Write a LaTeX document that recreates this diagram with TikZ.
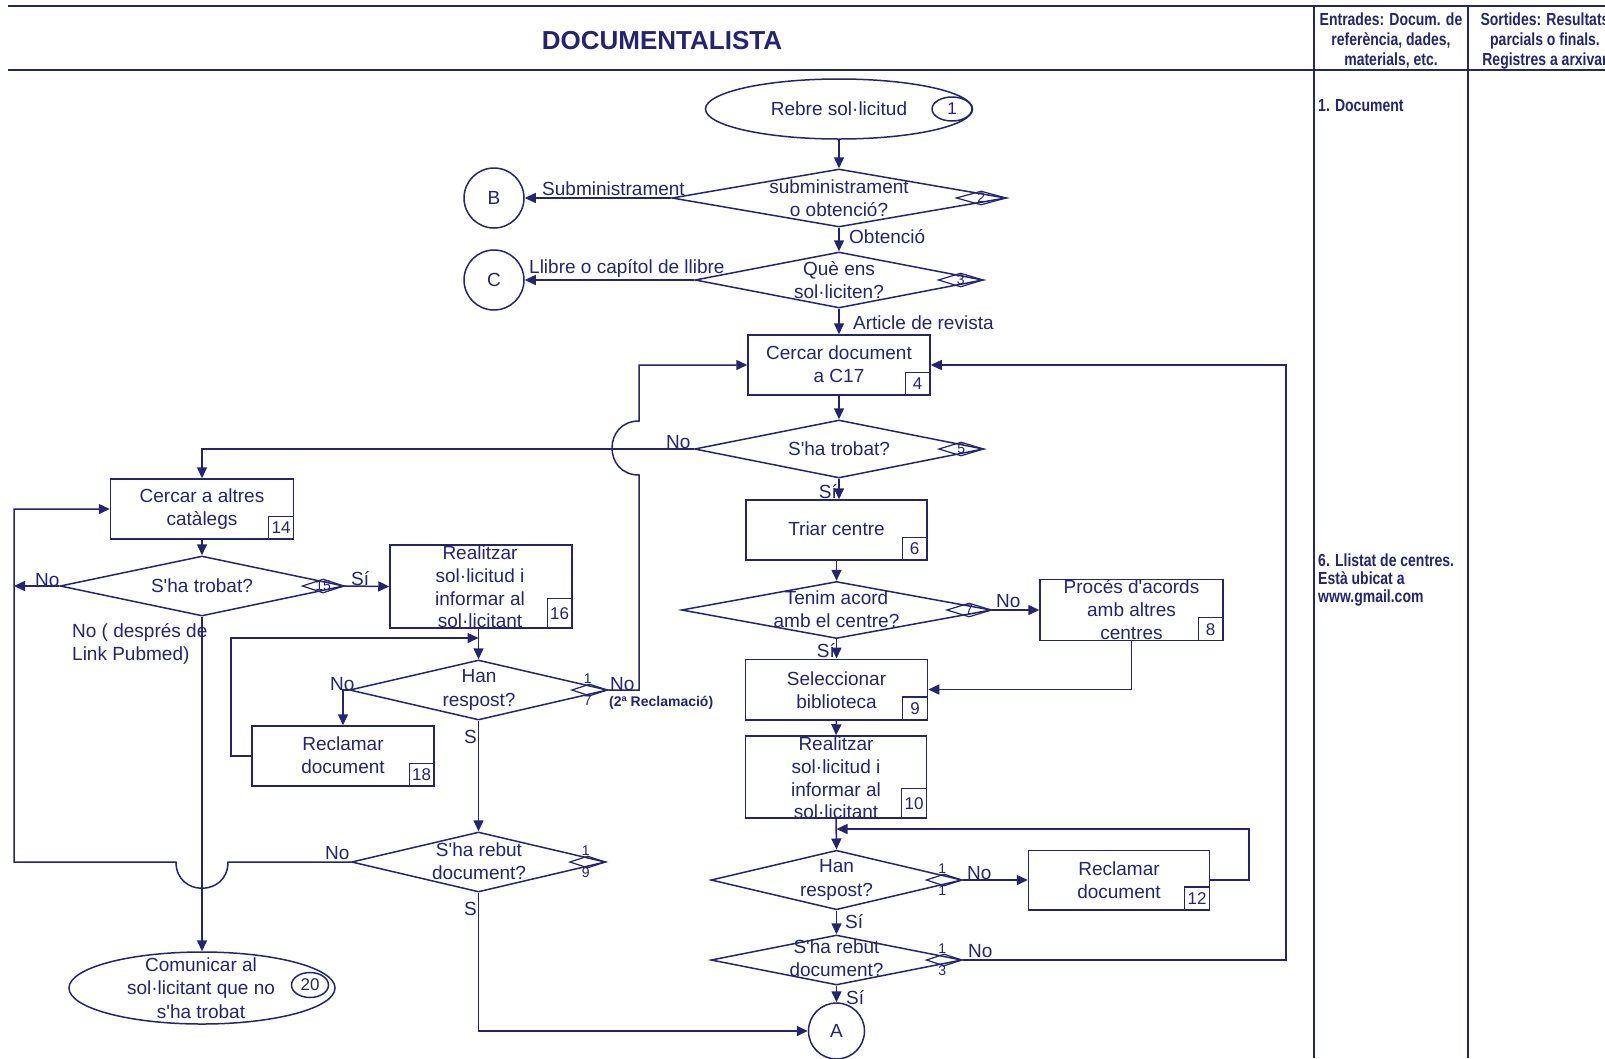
\documentclass[tikz,border=0pt]{standalone}
\usepackage{fontspec}
\setmainfont{Liberation Sans}[Ligatures=TeXOff]
\newfontfamily\nbf{Liberation Sans}[FakeStretch=0.8,Ligatures=TeXOff]
\usetikzlibrary{shapes.geometric,arrows.meta}
\definecolor{navy}{RGB}{36,36,112}
\newcommand{\dmMain}{\fontsize{19}{23.5}\selectfont}
\newcommand{\dmMainB}{\fontsize{19}{22.7}\selectfont}
\newcommand{\dmNum}{\fontsize{17}{17}\selectfont}
\newcommand{\dmTag}{\fontsize{14}{14}\selectfont}
\newcommand{\dmSide}{\nbf\bfseries\fontsize{17.5}{18}\selectfont}
\newcommand{\dmHead}{\nbf\bfseries\fontsize{17.5}{20}\selectfont}
\begin{document}
\begin{tikzpicture}[x=1pt,y=-1pt,
 ln/.style={draw=navy,line width=1.5pt},
 ar/.style={ln,-{Triangle[length=11pt,width=10pt]}},
 box/.style={draw=navy,line width=1.5pt,rectangle,minimum width=182pt,minimum height=60pt,inner sep=0pt},
 numbox/.style={draw=navy,line width=1.2pt,rectangle,minimum width=25pt,minimum height=23pt,inner sep=0pt,anchor=south east,text=navy,font=\dmNum},
 dia/.style={draw=navy,line width=1.5pt,diamond,inner sep=0pt},
 tag/.style={draw=navy,line width=1.2pt,diamond,inner sep=0pt,minimum width=45pt,minimum height=14pt,anchor=east},
 stag/.style={tag,minimum width=36pt,minimum height=12pt},
 tagtxt/.style={text=navy,font=\dmTag,inner sep=0pt},
 txt/.style={text=navy,font=\dmMain,align=center,inner sep=0pt},
 txtb/.style={text=navy,font=\dmMainB,align=center,inner sep=0pt},
 lbl/.style={text=navy,font=\dmMain,inner sep=0pt},
 con/.style={draw=navy,line width=1.5pt,circle,minimum size=60pt,inner sep=0pt,text=navy,font=\dmMain},
 ell/.style={draw=navy,line width=1.5pt,ellipse,inner sep=0pt},
 hd/.style={draw=navy,line width=2.6pt},
 side/.style={text=navy,inner sep=0pt}
]
\useasboundingbox (0,0) rectangle (1605,1058);
\clip (0,0) rectangle (1605,1058);
\fill[white] (0,0) rectangle (1605,1058);

% header and columns
\draw[hd] (8,6) -- (1605,6);
\draw[hd] (8,70) -- (1605,70);
\draw[navy,line width=2pt] (1314,6) -- (1314,1058);
\draw[navy,line width=2pt] (1468,6) -- (1468,1058);
\node[text=navy,font=\bfseries\fontsize{26}{30}\selectfont] (title) at (662,41) {DOCUMENTALISTA};
\node[side,font=\dmHead,align=center] (hin) at (1391,41) {Entrades: Docum. de\\referència, dades,\\materials, etc.};
\node[side,font=\dmHead,align=center] (hout) at (1545,41) {Sortides: Resultats\\parcials o finals.\\Registres a arxivar};
\node[side,font=\dmSide,anchor=west] (in1) at (1318,106) {1. Document};
\node[side,font=\dmSide,align=left,anchor=north west] (in6) at (1318,554) {6. Llistat de centres.\\Està ubicat a\\www.gmail.com};

% coordinates for routing
\coordinate (xL) at (14,0);
\coordinate (xM) at (639,0);
\coordinate (xR) at (1286,0);
\coordinate (xR2) at (1249,0);
\coordinate (x18) at (231,0);

% central column
\node[ell,minimum width=267pt,minimum height=60pt] (e1) at (839,109) {};
\node[txt] (e1t) at (839,109) {Rebre sol·licitud};
\node[ell,minimum width=40pt,minimum height=24pt,text=navy,font=\dmNum] (e1n) at (952,109) {1};

\node[dia,minimum width=334pt,minimum height=58pt] (d2) at (839,198) {};
\node[tag,minimum width=50pt] (t2) at (d2.east) {};
\node[tagtxt] (t2n) at (t2) {2};
\node[txt] (d2t) at (839,198) {subministrament\\o obtenció?};
\node[con] (cB) at (494,198) {B};
\node[lbl,anchor=base west] (l2a) at (542,195) {Subministrament};
\node[lbl,anchor=base west] (l2b) at (849,243) {Obtenció};

\node[dia,minimum width=288pt,minimum height=56pt] (d3) at (839,280) {};
\node[tag] (t3) at (d3.east) {};
\node[tagtxt] (t3n) at (t3) {3};
\node[txt] (d3t) at (839,280) {Què ens\\sol·liciten?};
\node[con] (cC) at (494,280) {C};
\node[lbl,anchor=base west] (l3a) at (529,273) {Llibre o capítol de llibre};
\node[lbl,anchor=base west] (l3b) at (853,329) {Article de revista};

\node[box] (b4) at (839,365) {};
\node[txt] (b4t) at (839,364) {Cercar document\\a C17};
\node[numbox] (n4) at (b4.south east) {4};

\node[dia,minimum width=289pt,minimum height=58pt] (d5) at (839,449) {};
\node[tag] (t5) at (d5.east) {};
\node[tagtxt] (t5n) at (t5) {5};
\node[txt] (d5t) at (839,449) {S'ha trobat?};
\node[lbl,anchor=base west] (l5n) at (666,448) {No};
\node[lbl,anchor=base east] (l5s) at (837,498) {Sí};

\node[box,minimum width=181pt] (b6) at (836.5,530) {};
\node[txt] (b6t) at (836.5,529) {Triar centre};
\node[numbox] (n6) at (b6.south east) {6};

\node[dia,minimum width=310pt,minimum height=57pt] (d7) at (836.5,610) {};
\node[tag] (t7) at (d7.east) {};
\node[tagtxt] (t7n) at (t7) {7};
\node[txt] (d7t) at (836.5,609) {Tenim acord\\amb el centre?};
\node[lbl,anchor=base west] (l7n) at (996,607) {No};
\node[lbl,anchor=base east] (l7s) at (835,657) {Sí};

\node[box,minimum width=183pt,minimum height=61pt] (b8) at (1131.5,610) {};
\node[txtb] (b8t) at (1131.5,609.5) {Procés d'acords\\amb altres\\centres};
\node[numbox] (n8) at (b8.south east) {8};

\node[box,minimum height=60.5pt] (b9) at (836.5,689.5) {};
\node[txt] (b9t) at (836.5,690) {Seleccionar\\biblioteca};
\node[numbox] (n9) at (b9.south east) {9};

\node[box,minimum width=181pt,minimum height=82pt] (b10) at (836,777) {};
\node[txtb] (b10t) at (836,778) {Realitzar\\sol·licitud i\\informar al\\sol·licitant};
\node[numbox,minimum height=30pt] (n10) at (b10.south east) {10};

\coordinate (j11) at (836.5,829);
\node[dia,minimum width=251pt,minimum height=59.5pt] (d11) at (836.5,880) {};
\node[stag] (t11) at (d11.east) {};
\node[tagtxt] (t11a) at ([shift={(-2,-11)}]t11.center) {1};
\node[tagtxt] (t11b) at ([shift={(-2,11)}]t11.center) {1};
\node[txt] (d11t) at (836.5,880) {Han\\respost?};
\node[lbl,anchor=base west] (l11n) at (967,879) {No};
\node[lbl,anchor=base west] (l11s) at (845,928) {Sí};

\node[box,minimum width=181pt,minimum height=59.5pt] (b12) at (1119,880) {};
\node[txt] (b12t) at (1119,880) {Reclamar\\document};
\node[numbox] (n12) at (b12.south east) {12};

\node[dia,minimum width=251pt,minimum height=50pt] (d13) at (836.5,960) {};
\node[stag] (t13) at (d13.east) {};
\node[tagtxt] (t13a) at ([shift={(-2,-11)}]t13.center) {1};
\node[tagtxt] (t13b) at ([shift={(-2,11)}]t13.center) {3};
\node[txt] (d13t) at (836.5,958) {S'ha rebut\\document?};
\node[lbl,anchor=base west] (l13n) at (968,957) {No};
\node[lbl,anchor=base west] (l13s) at (846,1004) {Sí};

\node[con,minimum size=56pt] (cA) at (836.5,1031) {A};

% left part
\node[box,minimum width=183pt] (b14) at (202,509) {};
\node[txt] (b14t) at (202,509) {Cercar a altres\\catàlegs};
\node[numbox] (n14) at (b14.south east) {14};

\node[dia,minimum width=284pt,minimum height=60pt] (d15) at (202,586) {};
\node[tag,minimum width=42pt] (t15) at (d15.east) {};
\node[tagtxt] (t15n) at (t15) {15};
\node[txt] (d15t) at (202,586) {S'ha trobat?};
\node[lbl,anchor=base west] (l15n) at (35,586) {No};
\node[lbl,anchor=base west] (l15s) at (351,585) {Sí};
\node[lbl,anchor=west,align=left] (l15d) at (72,644) {No ( després de\\Link Pubmed)};

\node[box,minimum height=83pt] (b16) at (481,586.5) {};
\node[txtb] (b16t) at (480,587) {Realitzar\\sol·licitud i\\informar al\\sol·licitant};
\node[numbox,minimum height=30pt] (n16) at (b16.south east) {16};

\coordinate (j17) at (478.5,638);
\node[dia,minimum width=258pt,minimum height=60pt] (d17) at (478.5,690) {};
\node[stag] (t17) at (d17.east) {};
\node[tagtxt] (t17a) at ([shift={(-2,-11)}]t17.center) {1};
\node[tagtxt] (t17b) at ([shift={(-2,11)}]t17.center) {7};
\node[txt] (d17t) at (479,690) {Han\\respost?};
\node[lbl,anchor=base west] (l17n) at (330,690) {No};
\node[lbl,anchor=base west] (l17r) at (610,690) {No};
\node[text=navy,font=\bfseries\fontsize{14}{14}\selectfont,anchor=west,inner sep=0pt] (l17c) at (609,703) {(2ª Reclamació)};
\node[lbl,anchor=base east] (l17s) at (477,743) {S};

\node[box] (b18) at (343,756) {};
\node[txt] (b18t) at (343,755) {Reclamar\\document};
\node[numbox] (n18) at (b18.south east) {18};

\node[dia,minimum width=254pt,minimum height=60pt] (d19) at (478.5,862) {};
\node[stag] (t19) at (d19.east) {};
\node[tagtxt] (t19a) at ([shift={(-2,-11)}]t19.center) {1};
\node[tagtxt] (t19b) at ([shift={(-2,11)}]t19.center) {9};
\node[txt] (d19t) at (479,861) {S'ha rebut\\document?};
\node[lbl,anchor=base west] (l19n) at (325,859) {No};
\node[lbl,anchor=base east] (l19s) at (477,915) {S};

\node[ell,minimum width=266pt,minimum height=72pt] (e20) at (202,988) {};
\node[txt] (e20t) at (201,988) {Comunicar al\\sol·licitant que no\\s'ha trobat};
\node[ell,minimum width=37pt,minimum height=25pt,text=navy,font=\dmNum] (e20n) at (310,985) {20};

% connectors
\draw[ar] (e1.south) -- (d2.north);
\draw[ar] (d2.west) -- (cB);
\draw[ar] (d2.south) -- (d3.north);
\draw[ar] (d3.west) -- (cC);
\draw[ar] (d3.south) -- (b4.north);
\draw[ar] (b4.south) -- (d5.north);
\draw[ar] (d5.west) -| (b14.north);
\draw[ar] (d5.south) -- (d5.south |- b6.north);
\draw[ar] (b6.south) -- (d7.north);
\draw[ar] (d7.east) -- (b8.west);
\draw[ar] (b8.south) |- (b9.east);
\draw[ar] (d7.south) -- (b9.north);
\draw[ar] (b9.south) -- (b10.north);
\draw[ar] (b10.south) -- (d11.north);
\draw[ar] (d11.east) -- (b12.west);
\draw[ar] (b12.east) -- (b12.east -| xR2) |- (j11);
\draw[ar] (d11.south) -- (d13.north);
\draw[ar] (d13.east) -- (d13.east -| xR) |- (b4.east);
\draw[ar] (d13.south) -- (cA.north);

\draw[ar] (b14.south) -- (d15.north);
\draw[ar] (d15.west) -- (d15.west -| xL);
\draw[ar] (d15.east) -- (b16.west);
\draw[ar] (d15.south) -- (e20.north);
\draw[ar] (b16.south -| d17.north) -- (d17.north);
\draw[ar] (b18.west) -- (b18.west -| x18) |- (j17);
\draw[ar] (d17.west) -| (b18.north);
\draw[ar] (d17.east) -- (d17.east -| xM) -- (639,475) .. controls (603,475) and (603,421) .. (639,421) |- (b4.west);
\draw[ar] (d17.south) -- (d19.north);
\draw[ar] (d19.west) -- (228,862) .. controls (228,897) and (176,897) .. (176,862) -- (xL |- d19.west) |- (b14.west);
\draw[ar] (d19.south) |- (cA.west);
\end{tikzpicture}
\end{document}
